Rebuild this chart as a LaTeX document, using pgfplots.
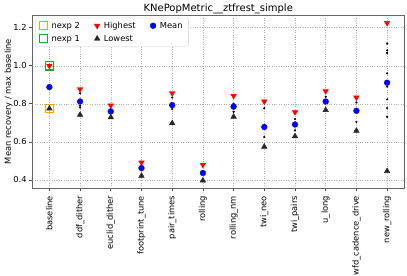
\documentclass[border=0pt]{standalone}
\usepackage{pgfplots}
\pgfplotsset{compat=1.18}
\usepackage{fontspec}
\setmainfont{DejaVu Sans}
\definecolor{mplorange}{HTML}{FFA500}
\definecolor{mplgreen}{HTML}{2CA02C}
\begin{document}
\fontsize{8.3bp}{10bp}\selectfont
\begin{tikzpicture}
\useasboundingbox (-32.5bp,-88bp) rectangle (374.5bp,188bp);
\begin{axis}[
  at={(0,0)}, anchor=south west,
  scale only axis, width=371.5bp, height=173bp,
  xmin=-0.55, xmax=11.55, ymin=0.357, ymax=1.267,
  xtick={0,...,11},
  xticklabels={baseline,ddf\_dither,euclid\_dither,footprint\_tune,pair\_times,rolling,rolling\_nm,twi\_neo,twi\_pairs,u\_long,wfd\_cadence\_drive,new\_rolling},
  x tick label style={rotate=90, anchor=east, font=\fontsize{8.3bp}{10bp}\selectfont},
  xticklabel shift=2bp,
  ytick={0.4,0.6,0.8,1.0,1.2},
  yticklabel style={/pgf/number format/fixed, /pgf/number format/fixed zerofill, /pgf/number format/precision=1, font=\fontsize{8.3bp}{10bp}\selectfont},
  /pgf/number format/assume math mode=true,
  tick align=outside, tick pos=left, major tick length=3bp,
  tick style={black!70, line width=0.6pt},
  axis line style={black!60, line width=0.9pt},
  grid=major, major grid style={dotted, black!30, line width=0.5pt},
  title={KNePopMetric\_\_ztfrest\_simple},
  title style={at={(0.5,1)}, anchor=base, yshift=-2.4bp, font=\fontsize{10bp}{12bp}\selectfont},
  ylabel={Mean recovery / max baseline},
  ylabel style={font=\fontsize{8.3bp}{10bp}\selectfont, yshift=-5bp},
  legend columns=3,
  legend style={at={(0.0067,0.984)}, anchor=north west, draw=black!20, rounded corners=2pt,
    font=\fontsize{8.3bp}{10bp}\selectfont, inner xsep=4bp, inner ysep=2bp, row sep=1.5bp,
    /tikz/every odd column/.append style={column sep=2bp},
    /tikz/every even column/.append style={column sep=12.5bp}},
  legend cell align=left,
]
% intermediate runs
\addplot[only marks, mark=*, mark size=0.9bp, black, forget plot] coordinates {
 (1,0.855) (1,0.79) (1,0.78)
 (4,0.833) (4,0.772)
 (6,0.80) (6,0.758)
 (7,0.777) (7,0.625)
 (8,0.72) (8,0.66)
 (9,0.837)
 (10,0.807) (10,0.705)
 (11,1.117) (11,1.081) (11,1.067) (11,0.96) (11,0.89) (11,0.823) (11,0.777) (11,0.732)
};
% highest
\addplot[only marks, red, mark=triangle*, mark size=3.2bp, mark options={rotate=180}, forget plot] coordinates {
 (0,1.0) (1,0.877) (2,0.791) (3,0.491) (4,0.856) (5,0.479) (6,0.842) (7,0.812) (8,0.756) (9,0.867) (10,0.833) (11,1.225)
};
% lowest
\addplot[only marks, black!85, mark=triangle*, mark size=3.2bp, forget plot] coordinates {
 (0,0.775) (1,0.742) (2,0.729) (3,0.421) (4,0.698) (5,0.396) (6,0.732) (7,0.574) (8,0.629) (9,0.767) (10,0.658) (11,0.446)
};
% mean
\addplot[only marks, blue, mark=*, mark size=2.9bp, forget plot] coordinates {
 (0,0.888) (1,0.812) (2,0.760) (3,0.462) (4,0.793) (5,0.436) (6,0.785) (7,0.678) (8,0.691) (9,0.812) (10,0.763) (11,0.911)
};
% nexp squares
\addplot[only marks, mplorange, mark=square, mark size=4.2bp, line width=1.1pt, forget plot] coordinates {(0,0.775)};
\addplot[only marks, mplgreen, mark=square, mark size=4.2bp, line width=1.1pt, forget plot] coordinates {(0,1.0)};
% legend
\addlegendimage{only marks, mplorange, mark=square, mark size=4.2bp, line width=1.1pt}
\addlegendentry{nexp 2}
\addlegendimage{only marks, red, mark=triangle*, mark size=3.2bp, mark options={rotate=180}}
\addlegendentry{Highest}
\addlegendimage{only marks, blue, mark=*, mark size=2.9bp}
\addlegendentry{Mean}
\addlegendimage{only marks, mplgreen, mark=square, mark size=4.2bp, line width=1.1pt}
\addlegendentry{nexp 1}
\addlegendimage{only marks, black!85, mark=triangle*, mark size=3.2bp}
\addlegendentry{Lowest}
\end{axis}
\end{tikzpicture}
\end{document}
